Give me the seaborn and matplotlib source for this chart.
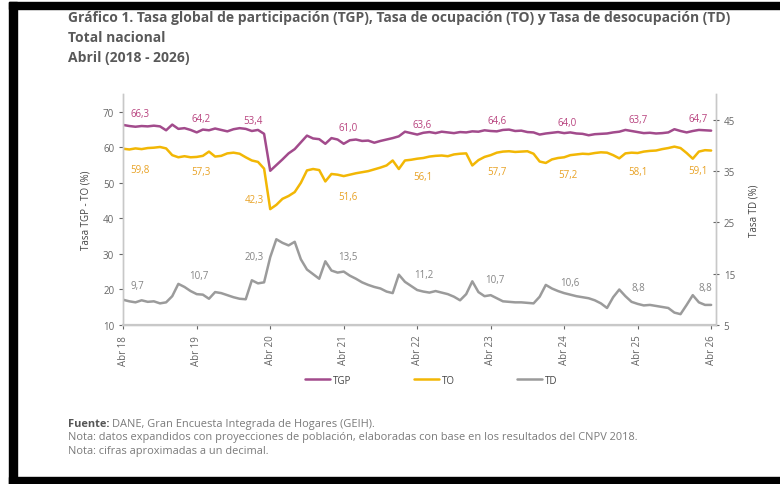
import matplotlib
matplotlib.use('Agg')
import matplotlib.pyplot as plt
import seaborn as sns
import pandas as pd
from matplotlib.patches import Rectangle

# meses desde abril 2018 (0) hasta abril 2026 (96)
meses = list(range(97))

tgp = [66.3, 66.0, 65.8, 66.0, 65.9, 66.1, 65.9, 64.8, 66.4, 65.2,
       65.4, 64.9, 64.2, 65.0, 64.8, 65.3, 64.9, 64.5, 65.1, 65.4,
       65.2, 64.6, 64.9, 63.8, 53.4, 55.0, 56.6, 58.3, 59.5, 61.4,
       63.3, 62.5, 62.3, 61.0, 62.6, 62.2, 61.0, 62.0, 62.2, 61.8,
       61.9, 61.3, 61.8, 62.2, 62.6, 63.1, 64.4, 64.0, 63.6, 64.1,
       64.3, 64.0, 64.4, 64.2, 64.0, 64.3, 64.2, 64.5, 64.4, 64.8,
       64.6, 64.5, 64.9, 65.0, 64.6, 64.7, 64.3, 64.2, 63.6, 63.9,
       64.1, 64.3, 64.0, 64.2, 63.9, 63.8, 63.4, 63.7, 63.8, 63.9,
       64.2, 64.4, 64.9, 64.6, 64.3, 64.0, 64.1, 63.9, 64.0, 64.2,
       65.1, 64.6, 64.2, 64.6, 64.9, 64.8, 64.7]

to = [59.6, 59.4, 59.7, 59.5, 59.8, 59.9, 60.1, 59.7, 57.8, 57.2,
      57.5, 57.2, 57.3, 57.6, 58.8, 57.4, 57.6, 58.3, 58.5, 58.2,
      57.2, 56.3, 55.9, 54.0, 42.6, 43.8, 45.5, 46.3, 47.4, 50.0,
      53.5, 53.9, 53.6, 50.4, 52.5, 52.3, 51.9, 52.3, 52.7, 53.0,
      53.3, 53.8, 54.3, 54.9, 56.3, 53.9, 56.3, 56.5, 56.8, 57.0,
      57.4, 57.6, 57.7, 57.5, 58.0, 58.2, 58.3, 54.9, 56.4, 57.3,
      57.8, 58.5, 58.8, 58.9, 58.7, 58.8, 58.9, 58.2, 56.0, 55.6,
      56.6, 57.0, 57.2, 57.8, 58.0, 58.2, 58.1, 58.4, 58.6, 58.5,
      57.8, 56.9, 58.3, 58.5, 58.4, 58.8, 59.0, 59.1, 59.5, 59.8,
      60.2, 59.8, 58.4, 56.8, 58.8, 59.2, 59.1]

td = [9.9, 9.6, 9.4, 9.8, 9.5, 9.6, 9.2, 9.4, 10.6, 13.0,
      12.4, 11.6, 11.0, 10.9, 10.1, 11.4, 11.2, 10.8, 10.4, 10.1,
      10.0, 13.7, 13.1, 13.3, 18.2, 21.7, 21.0, 20.5, 21.2, 17.8,
      15.8, 14.9, 14.0, 17.4, 15.6, 15.2, 15.4, 14.6, 14.0, 13.3,
      12.8, 12.4, 12.1, 11.5, 11.2, 14.8, 13.4, 12.6, 11.8, 11.5,
      11.3, 11.6, 11.3, 11.0, 10.5, 9.8, 11.0, 13.5, 11.4, 10.6,
      10.8, 10.2, 9.6, 9.5, 9.4, 9.4, 9.3, 9.2, 10.5, 12.8,
      12.1, 11.6, 11.2, 10.9, 10.6, 10.4, 10.2, 9.8, 9.2, 8.3,
      10.4, 11.9, 10.6, 9.5, 9.1, 8.8, 8.9, 8.7, 8.5, 8.3,
      7.4, 7.1, 8.9, 10.8, 9.4, 8.9, 8.9]

abriles = [0, 12, 24, 36, 48, 60, 72, 84, 96]
etiquetas_x = ['Abr 18', 'Abr 19', 'Abr 20', 'Abr 21', 'Abr 22',
               'Abr 23', 'Abr 24', 'Abr 25', 'Abr 26']
etiq_tgp = [66.3, 64.2, 53.4, 61.0, 63.6, 64.6, 64.0, 63.7, 64.7]
etiq_to = [59.8, 57.3, 42.3, 51.6, 56.1, 57.7, 57.2, 58.1, 59.1]
etiq_td = [9.7, 10.7, 20.3, 13.5, 11.2, 10.7, 10.6, 8.8, 8.8]

df = pd.DataFrame({'mes': meses, 'TGP': tgp, 'TO': to, 'TD': td})

c_tgp, c_to, c_td = '#a24b8c', '#f2b705', '#9b9b9b'
t_tgp, t_to, t_td = '#b8437f', '#e8a225', '#858585'
gris = '#666666'

sns.set_style('white')
plt.rcParams['font.family'] = ['Open Sans', 'DejaVu Sans']

fig = plt.figure(figsize=(7.8, 4.85), dpi=100)
ax = fig.add_axes([0.158, 0.328, 0.76, 0.476])
ax2 = ax.twinx()

sns.lineplot(data=df, x='mes', y='TGP', ax=ax, color=c_tgp, linewidth=1.8,
             label='TGP', legend=False)
sns.lineplot(data=df, x='mes', y='TO', ax=ax, color=c_to, linewidth=1.8,
             label='TO', legend=False)
sns.lineplot(data=df, x='mes', y='TD', ax=ax2, color=c_td, linewidth=1.8,
             label='TD', legend=False)

ax.set_xlim(0, 96.8)
ax.set_ylim(10, 75)
ax2.set_ylim(5, 50)
ax.set_yticks(range(10, 71, 10))
ax2.set_yticks(range(5, 46, 10))
ax.set_xticks(abriles)
ax.set_xticklabels(etiquetas_x, rotation=90)
ax.set_xlabel('')
ax.set_ylabel('Tasa TGP - TO (%)', fontsize=7, color='#444444', labelpad=8)
ax2.set_ylabel('Tasa TD (%)', fontsize=7, color='#444444', labelpad=10)

for a in (ax, ax2):
    for s in a.spines.values():
        s.set_color('#c8c8c8')
        s.set_linewidth(1.0)
    a.spines['top'].set_visible(False)
ax.spines['bottom'].set_linewidth(1.6)
ax.tick_params(axis='both', labelsize=7, colors=gris, length=3, width=0.8,
               direction='out', left=True, bottom=True)
ax2.tick_params(axis='y', labelsize=7, colors=gris, length=4, width=0.8,
                direction='inout', right=True)
ax.tick_params(axis='x', pad=4)

# etiquetas de datos (desplazamiento en pixeles)
off_tgp = [(17, 11), (4, 14), (-17, 50), (4, 16), (5, 10), (6, 10), (3, 11), (0, 15), (-13, 12)]
off_to = [(17, -21), (4, -15), (-16, 11), (4, -19), (6, -15), (6, -16), (4, -17), (0, -17), (-13, -20)]
off_td = [(14, 15), (2, 20), (-16, -10), (4, 25), (7, 19), (4, 16), (6, 14), (1, 18), (-6, 18)]

for a, vals, offs, col in [(ax, etiq_tgp, off_tgp, t_tgp), (ax, etiq_to, off_to, t_to),
                           (ax2, etiq_td, off_td, t_td)]:
    for m, v, o in zip(abriles, vals, offs):
        a.annotate(f'{v:.1f}'.replace('.', ','), (m, v), xytext=o,
                   textcoords='offset pixels', ha='center', va='center',
                   fontsize=7, color=col)

h1, l1 = ax.get_legend_handles_labels()
h2, l2 = ax2.get_legend_handles_labels()
fig.legend(h1 + h2, l1 + l2, loc='center', bbox_to_anchor=(0.553, 0.214),
           ncol=3, frameon=False, fontsize=7, handlelength=2.6,
           columnspacing=6.4, handletextpad=0.3, labelcolor='#444444')

titulo = ['Gráfico 1. Tasa global de participación (TGP), Tasa de ocupación (TO) y Tasa de desocupación (TD)',
          'Total nacional', 'Abril (2018 - 2026)']
for i, t in enumerate(titulo):
    fig.text(0.087, 0.962 - i * 0.041, t, fontsize=10, fontweight='bold',
             color='#595959', va='center', ha='left')

fig.text(0.087, 0.125, 'Fuente:', fontsize=7.9, fontweight='bold', color='#555555', va='center')
fig.text(0.143, 0.125, 'DANE, Gran Encuesta Integrada de Hogares (GEIH).', fontsize=7.9,
         color='#7a7a7a', va='center')
fig.text(0.087, 0.098, 'Nota: datos expandidos con proyecciones de población, elaboradas con base en los resultados del CNPV 2018.',
         fontsize=7.9, color='#7a7a7a', va='center')
fig.text(0.087, 0.070, 'Nota: cifras aproximadas a un decimal.', fontsize=7.9,
         color='#7a7a7a', va='center')

# marco negro de la captura
W, H = 780, 485
fig.add_artist(Rectangle((9 / W, 0), 8 / W, 482 / H, transform=fig.transFigure,
                         color='black', zorder=10))
fig.add_artist(Rectangle((9 / W, 1 - 10 / H), 1, 7 / H, transform=fig.transFigure,
                         color='black', zorder=10))
fig.add_artist(Rectangle((9 / W, 0), 1, 7 / H, transform=fig.transFigure,
                         color='black', zorder=10))

fig.savefig('out.png', dpi=100)
